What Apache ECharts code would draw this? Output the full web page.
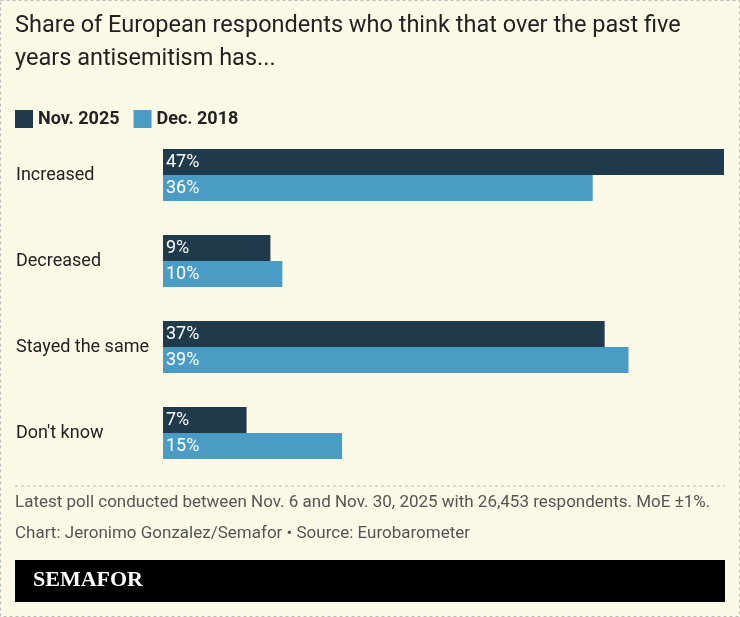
<!DOCTYPE html>
<html><head><meta charset="utf-8">
<script src="https://cdn.jsdelivr.net/npm/echarts@6/dist/echarts.min.js"></script>
<style>html,body{margin:0;padding:0;background:#fdf9e7}#c{width:740px;height:617px}</style>
</head><body><div id="c"></div>
<script>
var categories = ["Increased", "Decreased", "Stayed the same", "Don't know"];
var nov2025 = [47, 9, 37, 7];
var dec2018 = [36, 10, 39, 15];
var seriesNames = ["Nov. 2025", "Dec. 2018"];
var chart = echarts.init(document.getElementById('c'));
var font = "Roboto, 'Liberation Sans', sans-serif";
var lbl = {show: true, position: 'insideLeft', offset: [-2, 0], color: '#fff', fontSize: 18, fontFamily: font, formatter: '{c}%'};
chart.setOption({
  backgroundColor: '#fdf9e7',
  animation: false,
  title: {text: 'Share of European respondents who think that over the past five\nyears antisemitism has...', left: 10, top: 5,
    textStyle: {fontSize: 23.5, fontWeight: 'normal', color: '#222', fontFamily: font, lineHeight: 33}},
  legend: {left: 10, top: 105, itemWidth: 18, itemHeight: 18, itemGap: 14, icon: 'rect',
    textStyle: {fontSize: 18, fontWeight: 'bold', color: '#222', fontFamily: font}},
  grid: {left: 163, right: 16, top: 132, bottom: 141},
  xAxis: {type: 'value', min: 0, max: 47, show: false},
  yAxis: {type: 'category', data: categories, inverse: true,
    axisLine: {show: false}, axisTick: {show: false},
    axisLabel: {align: 'left', margin: 147, fontSize: 18, color: '#222', fontFamily: font}},
  series: [
    {name: seriesNames[0], type: 'bar', data: nov2025, barWidth: 26, barGap: '0%', itemStyle: {color: '#1e3a4b'}, label: lbl},
    {name: seriesNames[1], type: 'bar', data: dec2018, barWidth: 26, itemStyle: {color: '#4a9cc4'}, label: lbl}
  ],
  graphic: [
    {type: 'rect', shape: {x: 0.5, y: 0.5, width: 739, height: 616}, style: {fill: null, stroke: '#bbb', lineDash: [3, 3], lineWidth: 1}},
    {type: 'line', shape: {x1: 15, y1: 486, x2: 725, y2: 486}, style: {stroke: '#bbb', lineDash: [3, 3], lineWidth: 1}},
    {type: 'text', left: 15, top: 494, style: {text: 'Latest poll conducted between Nov. 6 and Nov. 30, 2025 with 26,453 respondents. MoE ±1%.', fontSize: 17, fill: '#555', fontFamily: font}},
    {type: 'text', left: 15, top: 525, style: {text: 'Chart: Jeronimo Gonzalez/Semafor • Source: Eurobarometer', fontSize: 17, fill: '#555', fontFamily: font}},
    {type: 'rect', shape: {x: 15, y: 560, width: 710, height: 42}, style: {fill: '#000'}},
    {type: 'text', left: 33, top: 569, style: {text: 'SEMAFOR', fontSize: 22, fontWeight: 'bold', fill: '#fff', fontFamily: "'Liberation Serif', serif"}}
  ]
});
</script></body></html>
